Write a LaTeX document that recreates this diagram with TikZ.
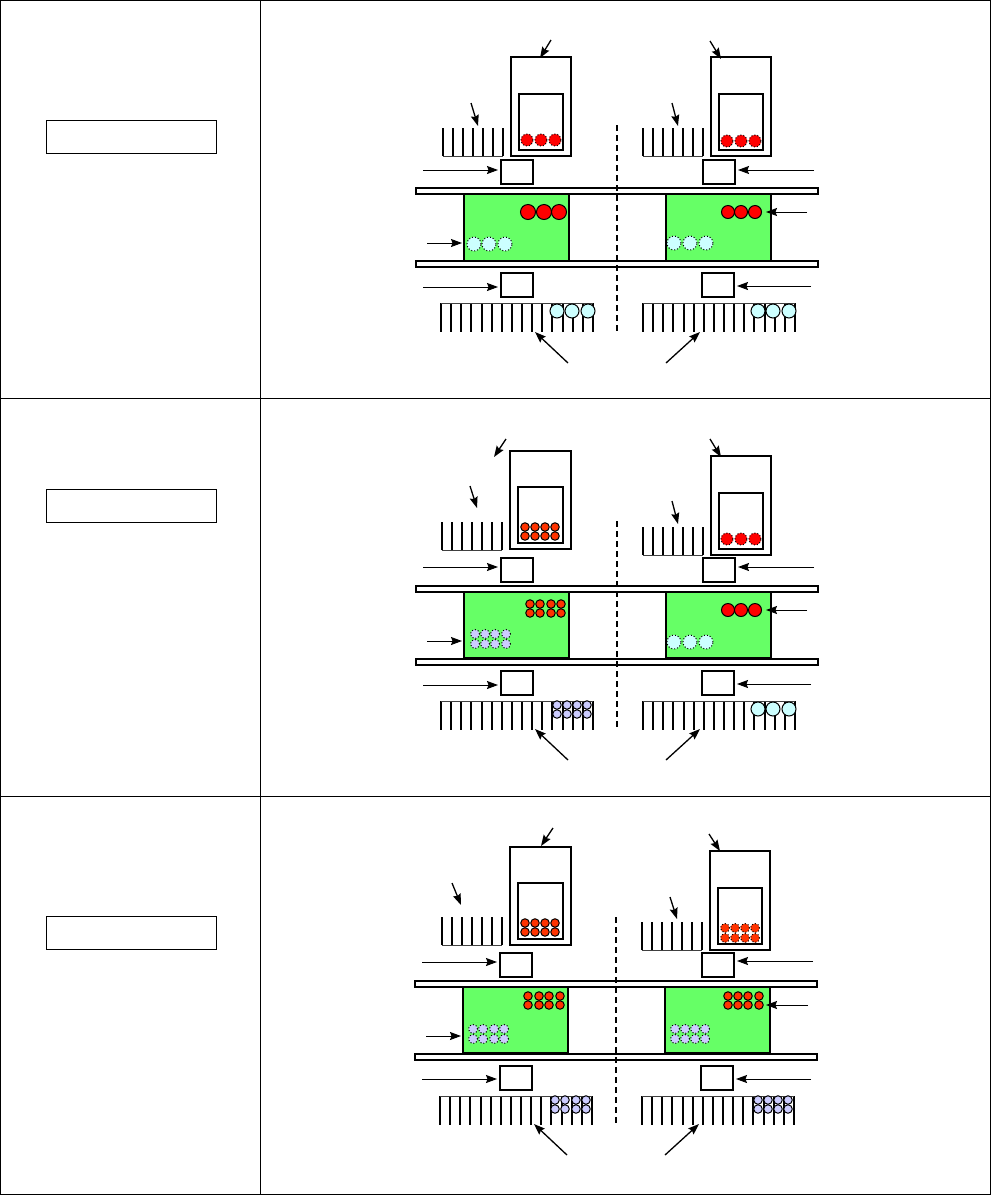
\documentclass[tikz,border=0pt]{standalone}
\usepackage{xcolor}
\usetikzlibrary{arrows.meta}

\definecolor{tankgreen}{HTML}{66FF66}
\definecolor{icecyan}{HTML}{CCFFFF}
\definecolor{paleblue}{HTML}{CCCCFF}
\definecolor{hotred}{HTML}{FF3300}

% comb with baseline below (left x, baseline y) and comb with baseline on top
\newcommand{\upcomb}[2]{%
  \foreach \i in {0,...,6} \draw[combline] ({#1+\i*10},#2) -- ++(0,-28);
  \draw[combbase] (#1,#2) -- ++(60,0);
}
\newcommand{\downcomb}[2]{%
  \foreach \i in {0,...,15} \draw[combline] ({#1+int(\i*10.13+0.5)},#2) -- ++(0,29);
  \draw[combbase] (#1,#2) -- ++(152,0);
}
\newcommand{\ballrow}[4]{\foreach \bx in {#4} \node[#1] (#2\bx) at (\bx,#3) {};}
\newcommand{\pointer}[4][arrb]{%
  \coordinate (#2a) at (#3);
  \coordinate (#2b) at (#4);
  \draw[#1] (#2a) -- (#2b);
}

\begin{document}
\begin{tikzpicture}[
  x=1pt, y=-1pt,
  every node/.style={outer sep=0pt, inner sep=0pt},
  grid/.style={draw=black, line width=1pt},
  labelbox/.style={draw, line width=0.9pt, minimum width=170pt, minimum height=33pt},
  outerbox/.style={draw, line width=1.5pt, minimum width=60pt, minimum height=99pt},
  wideouter/.style={draw, line width=1.5pt, minimum width=61pt, minimum height=98pt},
  innerbox/.style={draw, line width=1.5pt, minimum width=44pt, minimum height=56pt},
  wideinner/.style={draw, line width=1.5pt, minimum width=45pt, minimum height=56pt},
  valve/.style={draw, line width=1.5pt, minimum width=32pt, minimum height=24pt},
  rail/.style={draw, fill=white, line width=1.5pt, minimum width=402pt, minimum height=6pt},
  tank/.style={draw, fill=tankgreen, line width=1.5pt, minimum width=105pt, minimum height=67pt},
  lowtank/.style={tank, minimum height=66pt},
  combline/.style={line width=1.4pt},
  combbase/.style={line width=1pt, draw=black!75},
  divider/.style={dashed, dash pattern=on 6pt off 4pt, line width=1.5pt},
  arr/.style={-{Stealth[length=11pt,width=8pt,inset=1.5pt]}, line width=0.9pt},
  arrb/.style={-{Stealth[length=11pt,width=8pt,inset=1.5pt]}, line width=1.3pt},
  redball/.style={circle, fill=red, draw, dotted, line width=1pt, minimum size=12pt},
  bigred/.style={circle, fill=red, draw, line width=1pt, minimum size=15pt},
  midred/.style={circle, fill=red, draw, line width=1pt, minimum size=13pt},
  iceball/.style={circle, fill=icecyan, draw, line width=1pt, minimum size=14pt},
  icedot/.style={circle, fill=icecyan, draw, dotted, line width=1pt, minimum size=14pt},
  hotball/.style={circle, fill=hotred, draw, line width=1pt, minimum size=8.5pt},
  hotdot/.style={circle, fill=hotred, draw, dotted, line width=1pt, minimum size=9pt},
  paleball/.style={circle, fill=paleblue, draw, line width=1pt, minimum size=8.5pt},
  paledot/.style={circle, fill=paleblue, draw, dotted, line width=1pt, minimum size=9pt}
]
  \useasboundingbox (0,0) rectangle (991,1195);
  \draw[grid] (0.5,0.5) rectangle (990.5,1194.5);
  \draw[grid] (260.5,0.5) -- (260.5,1194.5);
  \draw[grid] (0.5,398.5) -- (990.5,398.5);
  \draw[grid] (0.5,796.5) -- (990.5,796.5);

  \node[labelbox] (labelA) at (131,136.5) {};
  \node[labelbox] (labelB) at (131,505.5) {};
  \node[labelbox] (labelC) at (131,932.5) {};

  % first row
  \node[rail] (railA1) at (617,191) {};
  \node[tank] (tankAL) at (516.5,227.5) {};
  \node[tank] (tankAR) at (718.5,227.5) {};
  \node[rail] (railA2) at (617,264) {};
  \node[outerbox] (boxAL) at (541,106.5) {};
  \node[innerbox] (innerAL) at (541,122) {};
  \node[outerbox] (boxAR) at (741,106.5) {};
  \node[innerbox] (innerAR) at (741,122) {};
  \node[valve] (valveAL) at (517,172) {};
  \node[valve] (valveAR) at (719,172) {};
  \node[valve] (valveAL2) at (517,285) {};
  \node[valve] (valveAR2) at (718,285) {};
  \upcomb{443}{156}
  \upcomb{643}{156}
  \downcomb{441}{303}
  \downcomb{643}{303}
  \ballrow{redball}{ra}{140}{527,541,555}
  \ballrow{redball}{rb}{141}{727,741,755}
  \ballrow{bigred}{rc}{212}{528,544,559}
  \ballrow{midred}{rd}{212}{728,741,755}
  \ballrow{icedot}{ia}{244}{474,489,505}
  \ballrow{icedot}{ib}{243}{674,690,706}
  \ballrow{iceball}{ic}{311}{557,572,588}
  \ballrow{iceball}{id}{311}{758,773,789}
  \coordinate (inAL) at (423,170);
  \coordinate (inAR) at (814,170);
  \coordinate (inAL2) at (423,287);
  \coordinate (inAR2) at (811,286);
  \coordinate (inAT) at (427,243);
  \draw[arr, shorten >=3pt] (inAL) -- (inAL -| valveAL.west);
  \draw[arr, shorten >=3pt] (inAR) -- (inAR -| valveAR.east);
  \draw[arr, shorten >=3pt] (inAL2) -- (inAL2 -| valveAL2.west);
  \draw[arr, shorten >=3pt] (inAR2) -- (inAR2 -| valveAR2.east);
  \draw[arr, shorten >=2pt] (inAT) -- (inAT -| tankAL.west);
  \pointer{pa}{551,40}{540,58}
  \pointer{pb}{710,41}{721,59}
  \pointer{pc}{471,103}{478,126}
  \pointer{pd}{672,103}{678,126}
  \pointer[arr]{pe}{807,212}{766,212}
  \pointer{pf}{568,363}{535,332}
  \pointer{pg}{666,363}{700,332}
  \coordinate (divAt) at (617,125);
  \coordinate (divAb) at (617,332);
  \draw[divider] (divAt) -- (divAb);

  % second row
  \node[rail] (railB1) at (617,589) {};
  \node[lowtank] (tankBL) at (516.5,625) {};
  \node[lowtank] (tankBR) at (718.5,625) {};
  \node[rail] (railB2) at (617,662) {};
  \node[wideouter] (boxBL) at (540.5,500) {};
  \node[wideinner] (innerBL) at (540.5,515) {};
  \node[outerbox] (boxBR) at (741,505.5) {};
  \node[innerbox] (innerBR) at (741,521) {};
  \node[valve] (valveBL) at (517,570) {};
  \node[valve] (valveBR) at (719,570) {};
  \node[valve] (valveBL2) at (517,683) {};
  \node[valve] (valveBR2) at (718,683) {};
  \upcomb{442}{550}
  \upcomb{643}{555}
  \downcomb{441}{701}
  \downcomb{643}{701}
  \ballrow{hotball}{ha}{527}{525,535,545,555}
  \ballrow{hotball}{hb}{536}{525,535,545,555}
  \ballrow{redball}{re}{539}{727,741,755}
  \ballrow{hotball}{hc}{604}{530,540,551,561}
  \ballrow{hotball}{hd}{613}{530,540,551,561}
  \ballrow{midred}{rf}{610}{728,741,755}
  \ballrow{paledot}{da}{634}{475,485,495,506}
  \ballrow{paledot}{db}{644}{475,485,495,506}
  \ballrow{icedot}{ie}{642}{674,690,706}
  \ballrow{paleball}{pba}{705}{557,567,577,587}
  \ballrow{paleball}{pbb}{714}{557,567,577,587}
  \ballrow{iceball}{if}{709}{758,773,789}
  \coordinate (inBL) at (423,567);
  \coordinate (inBR) at (814,567);
  \coordinate (inBL2) at (423,685);
  \coordinate (inBR2) at (811,684);
  \coordinate (inBT) at (427,641);
  \draw[arr, shorten >=3pt] (inBL) -- (inBL -| valveBL.west);
  \draw[arr, shorten >=3pt] (inBR) -- (inBR -| valveBR.east);
  \draw[arr, shorten >=3pt] (inBL2) -- (inBL2 -| valveBL2.west);
  \draw[arr, shorten >=3pt] (inBR2) -- (inBR2 -| valveBR2.east);
  \draw[arr, shorten >=2pt] (inBT) -- (inBT -| tankBL.west);
  \pointer{qa}{506,439}{494,457}
  \pointer{qb}{710,439}{721,457}
  \pointer{qc}{470,486}{477,508}
  \pointer{qd}{672,501}{678,524}
  \pointer[arr]{qe}{807,610}{766,610}
  \pointer{qf}{568,760}{535,729}
  \pointer{qg}{666,760}{700,729}
  \coordinate (divBt) at (617,521);
  \coordinate (divBb) at (617,729);
  \draw[divider] (divBt) -- (divBb);

  % third row
  \node[rail] (railC1) at (616,984) {};
  \node[lowtank] (tankCL) at (515.5,1020) {};
  \node[lowtank] (tankCR) at (717.5,1020) {};
  \node[rail] (railC2) at (616,1057) {};
  \node[wideouter] (boxCL) at (540.5,896) {};
  \node[wideinner] (innerCL) at (540.5,911) {};
  \node[outerbox] (boxCR) at (740,900.5) {};
  \node[innerbox] (innerCR) at (740,916) {};
  \node[valve] (valveCL) at (516,965) {};
  \node[valve] (valveCR) at (718,965) {};
  \node[valve] (valveCL2) at (516,1078) {};
  \node[valve] (valveCR2) at (717,1078) {};
  \upcomb{442}{945}
  \upcomb{642}{950}
  \downcomb{440}{1096}
  \downcomb{642}{1096}
  \ballrow{hotball}{he}{923}{525,535,545,555}
  \ballrow{hotball}{hf}{932}{525,535,545,555}
  \ballrow{hotdot}{hg}{928}{725,735,745,755}
  \ballrow{hotdot}{hh}{938}{725,735,745,755}
  \ballrow{hotball}{hi}{996}{528,539,549,560}
  \ballrow{hotball}{hj}{1005}{528,539,549,560}
  \ballrow{hotball}{hk}{996}{728,738,748,759}
  \ballrow{hotball}{hl}{1005}{728,738,748,759}
  \ballrow{paledot}{dc}{1029}{473,483,494,504}
  \ballrow{paledot}{dd}{1039}{473,483,494,504}
  \ballrow{paledot}{de}{1029}{675,685,695,705}
  \ballrow{paledot}{df}{1039}{675,685,695,705}
  \ballrow{paleball}{pbc}{1100}{555,565,576,586}
  \ballrow{paleball}{pbd}{1109}{555,565,576,586}
  \ballrow{paleball}{pbe}{1100}{758,768,778,788}
  \ballrow{paleball}{pbf}{1109}{758,768,778,788}
  \coordinate (inCL) at (422,962);
  \coordinate (inCR) at (813,961);
  \coordinate (inCL2) at (422,1079);
  \coordinate (inCR2) at (811,1079);
  \coordinate (inCT) at (426,1036);
  \draw[arr, shorten >=3pt] (inCL) -- (inCL -| valveCL.west);
  \draw[arr, shorten >=3pt] (inCR) -- (inCR -| valveCR.east);
  \draw[arr, shorten >=3pt] (inCL2) -- (inCL2 -| valveCL2.west);
  \draw[arr, shorten >=3pt] (inCR2) -- (inCR2 -| valveCR2.east);
  \draw[arr, shorten >=2pt] (inCT) -- (inCT -| tankCL.west);
  \pointer{sa}{553,828}{541,846}
  \pointer{sb}{709,834}{720,851}
  \pointer{sc}{452,883}{461,905}
  \pointer{sd}{670,897}{677,919}
  \pointer[arr]{se}{808,1005}{766,1005}
  \pointer{sf}{567,1155}{534,1124}
  \pointer{sg}{665,1155}{699,1124}
  \coordinate (divCt) at (616,917);
  \coordinate (divCb) at (616,1124);
  \draw[divider] (divCt) -- (divCb);
\end{tikzpicture}
\end{document}
